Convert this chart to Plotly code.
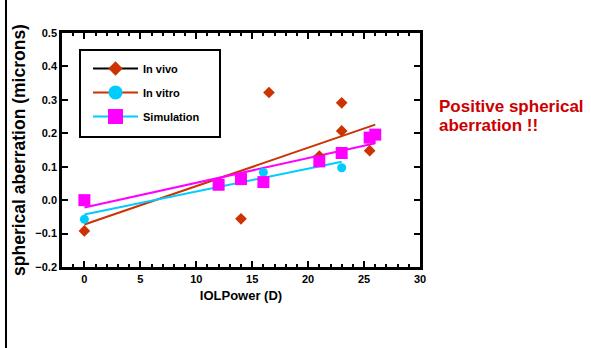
import plotly.graph_objects as go

# ---- data ----
iol_vivo = [0, 14, 16.5, 21, 23, 23, 25.5]
sa_vivo = [-0.092, -0.056, 0.322, 0.132, 0.291, 0.207, 0.148]

iol_vitro = [0, 16, 23]
sa_vitro = [-0.057, 0.083, 0.097]

iol_sim = [0, 12, 14, 16, 21, 23, 25.5, 26]
sa_sim = [0.0, 0.046, 0.063, 0.054, 0.116, 0.141, 0.187, 0.196]

# fitted trend lines (end points)
fit_x_vivo = [0, 26]
fit_y_vivo = [-0.073, 0.226]
fit_x_vitro = [0, 23]
fit_y_vitro = [-0.043, 0.115]
fit_x_sim = [0, 26]
fit_y_sim = [-0.022, 0.170]

series_names = ["In vivo", "In vitro", "Simulation"]

C_VIVO = "#CC3300"
C_VITRO = "#00CCFF"
C_SIM = "#FF00FF"
FONT = "Liberation Sans, Arial, sans-serif"

# plot-area pixel geometry (for paper-coordinate placement of decorations)
PX_L, PX_R, PX_T, PX_B = 62, 420, 33, 267
PW, PH = PX_R - PX_L, PX_B - PX_T


def px(x):
    return (x - PX_L) / PW


def py(y):
    return (PX_B - y) / PH


fig = go.Figure()

# fit lines
fig.add_trace(go.Scatter(x=fit_x_vivo, y=fit_y_vivo, mode="lines",
                         line=dict(color=C_VIVO, width=2), showlegend=False, hoverinfo="skip"))
fig.add_trace(go.Scatter(x=fit_x_vitro, y=fit_y_vitro, mode="lines",
                         line=dict(color=C_VITRO, width=2), showlegend=False, hoverinfo="skip"))
fig.add_trace(go.Scatter(x=fit_x_sim, y=fit_y_sim, mode="lines",
                         line=dict(color=C_SIM, width=2), showlegend=False, hoverinfo="skip"))

# data markers
fig.add_trace(go.Scatter(x=iol_vivo, y=sa_vivo, mode="markers", showlegend=False,
                         marker=dict(symbol="diamond", size=9, color=C_VIVO, line=dict(width=0))))
fig.add_trace(go.Scatter(x=iol_vitro, y=sa_vitro, mode="markers", showlegend=False,
                         marker=dict(symbol="circle", size=9, color=C_VITRO, line=dict(width=0))))
fig.add_trace(go.Scatter(x=iol_sim, y=sa_sim, mode="markers", showlegend=False,
                         marker=dict(symbol="square", size=12, color=C_SIM, line=dict(width=0))))

# legend entries (as drawn in the reference)
leg_specs = [
    (series_names[0], "black", "diamond", 11, C_VIVO),
    (series_names[1], C_VIVO, "circle", 14, C_VITRO),
    (series_names[2], C_VITRO, "square", 15, C_SIM),
]
for i, (nm, lc, sym, sz, mc) in enumerate(leg_specs):
    fig.add_trace(go.Scatter(x=[None], y=[None], mode="lines+markers", name=nm,
                             legendgroup="g%d" % i,
                             line=dict(color=lc, width=2),
                             marker=dict(symbol=sym, size=sz, color=mc, line=dict(width=0))))

axis_common = dict(
    showline=True, linecolor="black", linewidth=2.5, mirror="allticks",
    ticks="inside", ticklen=6, tickwidth=2, tickcolor="black",
    showgrid=False, zeroline=False,
    tickfont=dict(family=FONT, size=11, color="black", weight="bold"),
)

fig.update_xaxes(range=[-2, 30], tick0=0, dtick=5,
                 minor=dict(ticks="inside", dtick=1, ticklen=3, tickwidth=2, tickcolor="black", showgrid=False),
                 title=dict(text="IOLPower (D)", font=dict(family=FONT, size=13, color="black", weight="bold"),
                            standoff=7),
                 **axis_common)
fig.update_yaxes(range=[-0.2, 0.5], tick0=-0.2, dtick=0.1, tickformat=".1f",
                 title=dict(text="spherical aberration (microns)",
                            font=dict(family=FONT, size=17.5, color="black", weight="bold"), standoff=6),
                 **axis_common)

fig.update_layout(
    width=591, height=348,
    margin=dict(l=PX_L, r=591 - PX_R, t=PX_T, b=348 - PX_B, autoexpand=False),
    plot_bgcolor="white", paper_bgcolor="white",
    font=dict(family=FONT, color="black"),
    legend=dict(x=px(88), y=py(54), xanchor="left", yanchor="top",
                bgcolor="rgba(0,0,0,0)", borderwidth=0,
                itemwidth=45, tracegroupgap=5,
                font=dict(family=FONT, size=11, color="black", weight="bold")),
    annotations=[
        dict(text="Positive spherical", xref="paper", yref="paper", x=px(437), y=py(106),
             xanchor="left", yanchor="middle", showarrow=False,
             font=dict(family=FONT, size=17, color="#CC0000", weight="bold")),
        dict(text="aberration !!", xref="paper", yref="paper", x=px(437), y=py(125.5),
             xanchor="left", yanchor="middle", showarrow=False,
             font=dict(family=FONT, size=17, color="#CC0000", weight="bold")),
    ],
    shapes=[
        # legend frame
        dict(type="rect", xref="paper", yref="paper",
             x0=px(80), x1=px(220), y0=py(137), y1=py(50),
             line=dict(color="black", width=2), fillcolor="white", layer="above"),
        # slide border line at the left
        dict(type="line", xref="paper", yref="paper",
             x0=px(6), x1=px(6), y0=py(348), y1=py(0),
             line=dict(color="black", width=2)),
    ],
)

fig.write_html("out.html")
